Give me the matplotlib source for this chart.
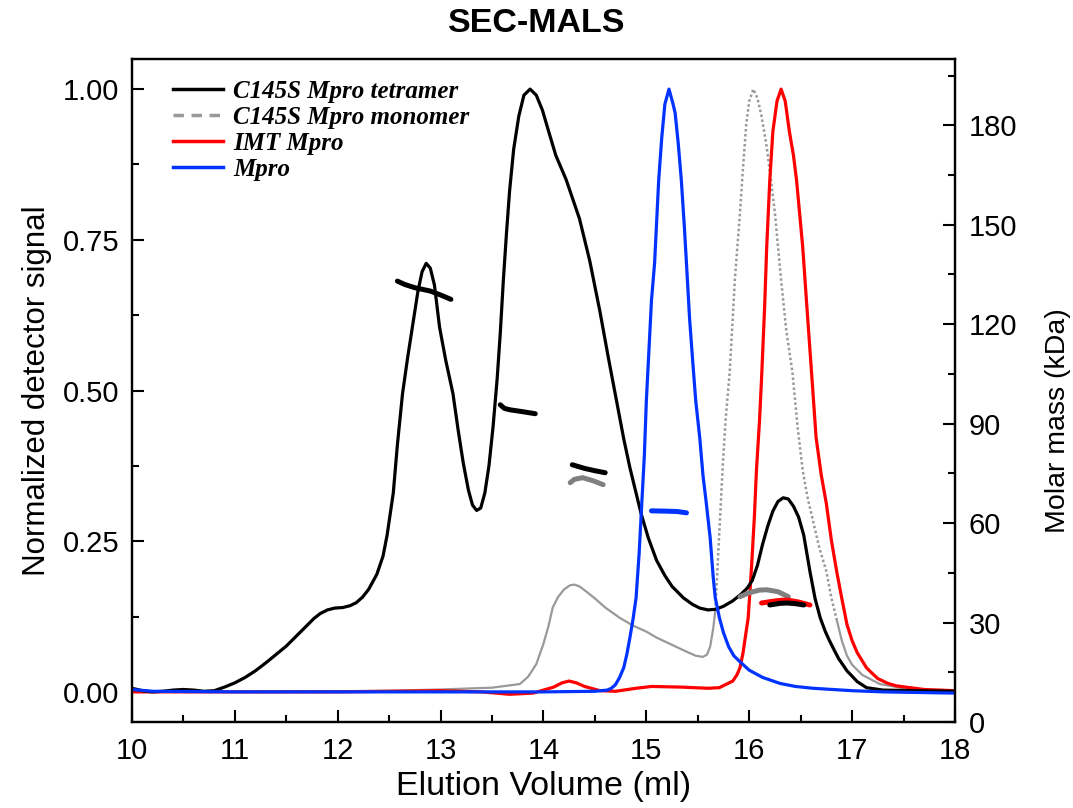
import matplotlib
matplotlib.use("Agg")
import matplotlib.pyplot as plt
from matplotlib.lines import Line2D
from matplotlib.ticker import MultipleLocator

# ---------------- data ----------------
# C145S Mpro tetramer (normalized signal)
tet_x = [10.0, 10.1, 10.2, 10.3, 10.4, 10.5, 10.6, 10.7, 10.8, 10.9, 11.0, 11.1, 11.2, 11.3, 11.4,
         11.5, 11.6, 11.7, 11.77, 11.83, 11.9, 11.97, 12.05, 12.12, 12.18, 12.24, 12.3, 12.38, 12.44,
         12.48, 12.51, 12.54, 12.58, 12.63, 12.68, 12.73, 12.78, 12.82, 12.86, 12.9, 12.94, 12.99,
         13.05, 13.12, 13.17, 13.22, 13.27, 13.31, 13.35, 13.39, 13.43, 13.47, 13.51, 13.55, 13.58,
         13.61, 13.64, 13.67, 13.71, 13.76, 13.81, 13.87, 13.93, 13.99, 14.05, 14.12, 14.22, 14.35,
         14.45, 14.55, 14.63, 14.71, 14.78, 14.84, 14.9, 14.95, 15.02, 15.1, 15.18, 15.25, 15.36,
         15.45, 15.52, 15.6, 15.67, 15.75, 15.84, 15.92, 15.98, 16.03, 16.08, 16.13, 16.18, 16.23,
         16.28, 16.33, 16.38, 16.43, 16.48, 16.53, 16.59, 16.64, 16.69, 16.74, 16.78, 16.83, 16.87,
         16.95, 17.05, 17.14, 17.3, 17.6, 18.0]
tet_y = [0.006, 0.002, 0.0, 0.001, 0.003, 0.004, 0.003, 0.001, 0.002, 0.008, 0.015, 0.024, 0.035,
         0.048, 0.062, 0.076, 0.093, 0.11, 0.122, 0.13, 0.136, 0.139, 0.14, 0.143, 0.148, 0.157, 0.17,
         0.195, 0.225, 0.26, 0.295, 0.33, 0.41, 0.495, 0.555, 0.61, 0.665, 0.697, 0.711, 0.703, 0.675,
         0.605, 0.55, 0.495, 0.435, 0.38, 0.335, 0.31, 0.301, 0.305, 0.33, 0.375, 0.44, 0.52, 0.595,
         0.683, 0.76, 0.83, 0.9, 0.955, 0.99, 1.0, 0.99, 0.965, 0.93, 0.89, 0.85, 0.785, 0.715, 0.63,
         0.555, 0.483, 0.42, 0.372, 0.33, 0.295, 0.255, 0.218, 0.193, 0.175, 0.156, 0.145, 0.139,
         0.136, 0.137, 0.142, 0.151, 0.162, 0.172, 0.185, 0.21, 0.245, 0.275, 0.30, 0.316, 0.322,
         0.32, 0.308, 0.29, 0.26, 0.20, 0.155, 0.123, 0.10, 0.085, 0.068, 0.055, 0.035, 0.017, 0.007,
         0.003, 0.002, 0.001]

# C145S Mpro monomer
mon_x = [10.0, 11.0, 12.0, 12.5, 13.0, 13.5, 13.77, 13.85, 13.93, 14.0, 14.05, 14.09, 14.14, 14.2,
         14.26, 14.3, 14.35, 14.42, 14.5, 14.6, 14.74, 14.87, 15.0, 15.1, 15.2, 15.3, 15.4, 15.48,
         15.55, 15.59, 15.62, 15.65, 15.67]
mon_y = [0.0, 0.0, 0.001, 0.002, 0.004, 0.007, 0.013, 0.025, 0.046, 0.08, 0.11, 0.14, 0.157, 0.17,
         0.177, 0.178, 0.175, 0.166, 0.155, 0.14, 0.123, 0.11, 0.10, 0.09, 0.082, 0.074, 0.066, 0.06,
         0.058, 0.062, 0.075, 0.105, 0.135]
mon_pk_x = [15.67, 15.69, 15.72, 15.74, 15.77, 15.81, 15.84, 15.86, 15.89, 15.91, 15.94, 15.97, 16.0,
            16.04, 16.08, 16.12, 16.17, 16.21, 16.25, 16.31, 16.36, 16.42, 16.47, 16.52, 16.57, 16.62,
            16.68, 16.75, 16.8, 16.85]
mon_pk_y = [0.135, 0.2, 0.3, 0.367, 0.45, 0.53, 0.62, 0.683, 0.75, 0.794, 0.87, 0.94, 0.98,
            1.0, 0.985, 0.955, 0.904, 0.85, 0.794, 0.683, 0.6, 0.53, 0.44, 0.367, 0.32, 0.284,
            0.24, 0.2, 0.155, 0.12]
mon_tail_x = [16.85, 16.9, 16.95, 17.0, 17.1, 17.27, 17.5, 17.92, 18.0]
mon_tail_y = [0.12, 0.085, 0.06, 0.045, 0.028, 0.013, 0.006, 0.002, 0.002]

# IMT Mpro
imt_x = [10.0, 12.0, 13.0, 13.4, 13.67, 13.9, 14.1, 14.18, 14.25, 14.32, 14.4, 14.55, 14.7, 14.9,
         15.05, 15.33, 15.6, 15.71, 15.84, 15.88, 15.91, 15.94, 15.97, 15.99, 16.02, 16.05, 16.07,
         16.1, 16.12, 16.15, 16.17, 16.2, 16.23, 16.27, 16.31, 16.35, 16.39, 16.43, 16.46, 16.52,
         16.56, 16.61, 16.65, 16.7, 16.75, 16.8, 16.85, 16.9, 16.95, 17.0, 17.05, 17.14, 17.2, 17.25,
         17.35, 17.43, 17.7, 18.0]
imt_y = [0.0, 0.0, 0.002, 0.0, -0.004, -0.002, 0.008, 0.015, 0.018, 0.015, 0.009, 0.002, 0.001, 0.006,
         0.009, 0.008, 0.006, 0.007, 0.018, 0.028, 0.04, 0.065, 0.1, 0.123, 0.2, 0.29, 0.367,
         0.45, 0.52, 0.64, 0.738, 0.849, 0.93, 0.98, 1.0, 0.98, 0.93, 0.89, 0.849, 0.738,
         0.64, 0.52, 0.422, 0.36, 0.312, 0.25, 0.2, 0.155, 0.112, 0.085, 0.065, 0.04, 0.03, 0.022,
         0.014, 0.01, 0.004, 0.002]

# Mpro
mp_x = [10.0, 10.2, 11.0, 12.0, 13.0, 14.0, 14.5, 14.62, 14.66, 14.7, 14.74, 14.78, 14.81, 14.84,
        14.87, 14.9, 14.93, 14.95, 14.98, 15.0, 15.03, 15.05, 15.08, 15.12, 15.15, 15.18, 15.22,
        15.26, 15.28, 15.31, 15.34, 15.37, 15.39, 15.42, 15.45, 15.48, 15.52, 15.55, 15.58, 15.62,
        15.65, 15.67, 15.71, 15.75, 15.8, 15.85, 15.91, 16.0, 16.13, 16.3, 16.45, 16.62, 17.0, 17.3,
        18.0]
mp_y = [0.004, 0.001, 0.0, 0.0, 0.0, 0.0, 0.001, 0.003, 0.006, 0.012, 0.024, 0.04, 0.062, 0.09,
        0.12, 0.156, 0.23, 0.295, 0.39, 0.483, 0.583, 0.65, 0.711, 0.849, 0.92, 0.975, 1.0,
        0.975, 0.96, 0.91, 0.849, 0.77, 0.711, 0.62, 0.55, 0.483, 0.42, 0.36, 0.317, 0.256,
        0.19, 0.156, 0.123, 0.098, 0.075, 0.06, 0.05, 0.036, 0.024, 0.014, 0.009, 0.006, 0.002, 0.0,
        -0.002]

# MALS molar mass segments (kDa)
tet_m1_x = [12.58, 12.65, 12.75, 12.9, 13.0, 13.1]
tet_m1_y = [133, 132, 131, 130, 128.8, 127.5]
tet_m2_x = [13.58, 13.62, 13.67, 13.8, 13.92]
tet_m2_y = [95.7, 94.6, 94.2, 93.6, 93.0]
tet_m3_x = [14.28, 14.4, 14.5, 14.6]
tet_m3_y = [77.6, 76.5, 75.8, 75.2]
tet_m4_x = [16.2, 16.3, 16.37, 16.45, 16.53]
tet_m4_y = [35.3, 35.8, 35.9, 35.7, 35.3]
mon_m1_x = [14.26, 14.3, 14.38, 14.48, 14.58]
mon_m1_y = [72.2, 73.2, 73.7, 72.8, 71.6]
mon_m2_x = [15.91, 16.0, 16.1, 16.17, 16.28, 16.38]
mon_m2_y = [37.8, 39.0, 39.8, 39.9, 39.3, 37.8]
imt_m_x = [16.12, 16.2, 16.3, 16.37, 16.48, 16.59]
imt_m_y = [35.9, 36.3, 36.7, 36.8, 36.2, 35.3]
mp_m_x = [15.05, 15.2, 15.3, 15.39]
mp_m_y = [63.7, 63.6, 63.5, 63.1]

labels = ["C145S Mpro tetramer", "C145S Mpro monomer", "IMT Mpro", "Mpro"]

# ---------------- styling ----------------
C_TET = "#000000"
C_MON = "#999999"
C_MON_M = "#808080"
C_IMT = "#ff0000"
C_MP = "#0033ff"

plt.rcParams['font.family'] = ['Liberation Sans', 'DejaVu Sans']

fig = plt.figure(figsize=(10.73, 8.08), dpi=100)
ax = fig.add_axes([0.123, 0.1064, 0.767, 0.8206])
ax2 = ax.twinx()

lw = 2.3
ax.plot(mon_x, mon_y, color=C_MON, lw=1.6, zorder=2)
ax.plot(mon_pk_x, mon_pk_y, color=C_MON, lw=1.8, ls=(0, (1, 1)), zorder=2)
ax.plot(mon_tail_x, mon_tail_y, color=C_MON, lw=1.6, zorder=2)
ax.plot(imt_x, imt_y, color=C_IMT, lw=lw, zorder=3)
ax.plot(tet_x, tet_y, color=C_TET, lw=lw, zorder=4)
ax.plot(mp_x, mp_y, color=C_MP, lw=lw, zorder=5)

mlw = 3.6
for xs, ys in [(mon_m1_x, mon_m1_y), (mon_m2_x, mon_m2_y)]:
    ax2.plot(xs, ys, color=C_MON_M, lw=mlw, solid_capstyle='round')
ax2.plot(imt_m_x, imt_m_y, color=C_IMT, lw=mlw, solid_capstyle='round')
for xs, ys in [(tet_m1_x, tet_m1_y), (tet_m2_x, tet_m2_y), (tet_m3_x, tet_m3_y), (tet_m4_x, tet_m4_y)]:
    ax2.plot(xs, ys, color=C_TET, lw=mlw, solid_capstyle='round')
ax2.plot(mp_m_x, mp_m_y, color=C_MP, lw=mlw, solid_capstyle='round')

ax.set_xlim(10, 18)
ax.set_ylim(-0.05, 1.05)
ax2.set_ylim(0, 200)

ax.xaxis.set_major_locator(MultipleLocator(1))
ax.xaxis.set_minor_locator(MultipleLocator(0.5))
ax.yaxis.set_minor_locator(MultipleLocator(0.125))
ax.set_yticks([0, 0.25, 0.5, 0.75, 1.0])
ax.set_yticklabels(["0.00", "0.25", "0.50", "0.75", "1.00"])
ax2.yaxis.set_minor_locator(MultipleLocator(15))
ax2.set_yticks([0, 30, 60, 90, 120, 150, 180])

for a in (ax, ax2):
    for s in a.spines.values():
        s.set_linewidth(1.6)
ax.tick_params(which='major', direction='in', length=8.5, width=1.5, labelsize=21)
ax.tick_params(axis='x', which='major', pad=11)
ax.tick_params(axis='y', which='major', pad=9)
ax.tick_params(which='minor', direction='in', length=5, width=1.5)
ax.tick_params(axis='y', which='both', right=False)
ax2.tick_params(which='major', direction='in', length=8.5, width=1.5, labelsize=21, pad=10)
ax2.tick_params(which='minor', direction='in', length=5, width=1.5)

ax.set_xlabel("Elution Volume (ml)", fontsize=24.5, labelpad=4)
ax.set_ylabel("Normalized detector signal", fontsize=22.5, labelpad=8)
ax2.set_ylabel("Molar mass (kDa)", fontsize=20.5)
ax2.yaxis.set_label_coords(1.11, 0.455)
fig.suptitle("SEC-MALS", fontsize=24.5, fontweight='bold', y=0.99)

handles = [Line2D([], [], color=C_TET, lw=2.5),
           Line2D([], [], color=C_MON, lw=2.5, ls=(0, (3, 2.2))),
           Line2D([], [], color=C_IMT, lw=2.5),
           Line2D([], [], color=C_MP, lw=2.5)]
leg = ax.legend(handles, labels, loc='upper left', bbox_to_anchor=(0.05, 0.968),
                frameon=False, borderpad=0, borderaxespad=0, handlelength=2.0,
                handletextpad=0.4, labelspacing=0.12,
                prop={'family': 'Liberation Serif', 'style': 'italic', 'weight': 'bold', 'size': 18})

fig.savefig("out.png", dpi=100)
